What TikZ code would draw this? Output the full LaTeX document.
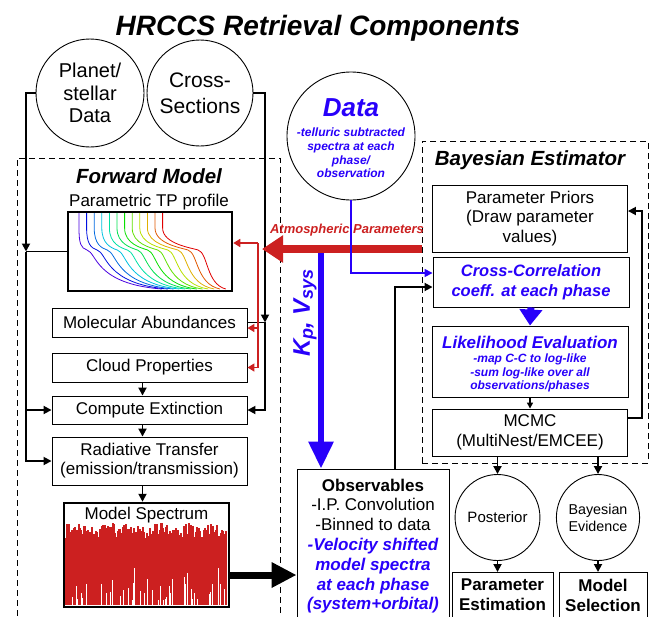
\documentclass[tikz,border=0pt]{standalone}
\usepackage{fontspec}
\setmainfont{Liberation Sans}
\usepackage{xcolor}
\definecolor{hrred}{RGB}{204,32,32}
\definecolor{hrblue}{RGB}{40,0,250}
\usepackage{tikz}
\usetikzlibrary{
  shapes.geometric,
  arrows.meta,
  positioning
}
\newcommand{\lowsub}[1]{\raisebox{-3pt}{\fontsize{18}{18}\selectfont #1}}

\begin{document}
\begin{tikzpicture}[
  x=1pt, y=-1pt,
  box/.style={rectangle, draw, line width=0.9pt, inner sep=0pt, align=center, font=\fontsize{17}{19.5}\selectfont},
  plotbox/.style={rectangle, draw, line width=2.5pt, inner sep=0pt},
  bubble/.style={circle, draw, line width=0.9pt, inner sep=0pt, align=center},
  oval/.style={ellipse, draw, line width=0.9pt, inner sep=0pt, minimum width=75pt, minimum height=86pt, align=center},
  frame/.style={rectangle, draw, line width=0.8pt, dash pattern=on 6pt off 4pt, inner sep=0pt},
  heading/.style={font=\bfseries\itshape\fontsize{20.5}{22}\selectfont},
  plain/.style={font=\fontsize{17}{19.5}\selectfont, inner sep=0pt},
  bluebold/.style={text=hrblue, font=\bfseries\itshape\fontsize{16.5}{20}\selectfont, align=center},
  bluenote/.style={text=hrblue, font=\bfseries\itshape\fontsize{12}{13.7}\selectfont, align=center, inner sep=0pt},
  result/.style={font=\bfseries\fontsize{17}{20}\selectfont, align=center, inner sep=0pt},
  link/.style={-{Triangle[length=8pt,width=8pt]}, line width=1.8pt},
  redlink/.style={-{Triangle[length=7pt,width=8pt]}, line width=1.6pt, hrred},
  bluelink/.style={-{Triangle[length=8pt,width=8pt]}, line width=1.5pt, hrblue},
  fatred/.style={-{Triangle[length=21pt,width=26pt]}, line width=8pt, hrred},
  fatblue/.style={-{Triangle[length=27pt,width=24pt]}, line width=6pt, hrblue},
  fatblack/.style={-{Triangle[length=25pt,width=24pt]}, line width=7pt}
]
  \useasboundingbox (0,0) rectangle (655,616);
  \clip (0,0) rectangle (655,616);

  % Title
  \node[font=\bfseries\itshape\fontsize{28}{30}\selectfont, anchor=base] (title) at (318,35) {HRCCS Retrieval Components};

  % Inputs
  \node[bubble, minimum size=108pt, font=\fontsize{20}{22.5}\selectfont] (planet) at (90,93) {Planet/\\stellar\\Data};
  \node[bubble, minimum size=106pt, font=\fontsize{21}{26}\selectfont] (xsec) at (200,93) {Cross-\\Sections};
  \node[bubble, minimum size=128pt] (data) at (351,136) {};
  \node[text=hrblue, font=\bfseries\itshape\fontsize{26}{28}\selectfont] (datahead) at (351,108) {Data};
  \node[bluenote] (datanote) at (351,153) {-telluric subtracted\\spectra at each\\phase/\\observation};

  % Forward model
  \node[frame, minimum width=263pt, minimum height=472pt] (fwd) at (148.5,394) {};
  \node[heading, anchor=base] (fwdhead) at (149,183) {Forward Model};
  \node[plain, anchor=base] (tplabel) at (149,206) {Parametric TP profile};
  \node[plotbox, minimum width=164pt, minimum height=79pt] (tp) at (150,251.5) {};
  \foreach \i in {0,...,11} {
    \pgfmathsetmacro{\hue}{0.72*(1-\i/11)}
    \definecolor{tpcol}{hsb}{\hue,1,0.88}
    \pgfmathsetmacro{\xt}{79+7.6*\i}
    \pgfmathsetmacro{\xm}{\xt+8+2.5*\i}
    \pgfmathsetmacro{\xe}{162+5.8*\i}
    \draw[tpcol, line width=0.8pt] (\xt,213) -- (\xt,228) .. controls (\xt,244) and (\xm-6,248) .. (\xm,250) .. controls (\xm+10,253) and (\xm+8,284) .. (\xe,289);
  }
  \node[box, minimum width=195pt, minimum height=29pt] (mol) at (149.5,322.5) {Molecular Abundances};
  \node[box, minimum width=195pt, minimum height=29pt] (cloud) at (149.5,367.5) {Cloud Properties};
  \node[box, minimum width=195pt, minimum height=28pt] (ext) at (149.5,410) {Compute Extinction};
  \node[box, minimum width=195pt, minimum height=48pt, font=\fontsize{17}{19}\selectfont] (rt) at (149.5,461) {Radiative Transfer\\(emission/transmission)};
  \node[plotbox, minimum width=165pt, minimum height=104pt] (spec) at (146.5,555) {};
  \pgfmathsetseed{5}
  \foreach \i in {0,...,160} {
    \draw[hrred, line width=1.2pt] ({66+\i},605) -- ({66+\i},{523+16*rnd});
  }
  \foreach \k in {1,...,45} {
    \draw[white, line width=0.7pt] ({68+157*rnd},605) -- ++(0,{-5-55*rnd*rnd});
  }
  \node[plain, anchor=base] (speclabel) at (146.5,519) {Model Spectrum};

  % Bayesian estimator
  \node[frame, minimum width=226pt, minimum height=322pt] (bayes) at (535,302) {};
  \node[heading, anchor=base] (bayeshead) at (530,165) {Bayesian Estimator};
  \node[box, minimum width=195pt, minimum height=67pt] (priors) at (530,218.5) {Parameter Priors\\(Draw parameter\\values)};
  \node[box, bluebold, minimum width=196pt, minimum height=50pt, inner sep=0pt] (cc) at (531,282) {Cross-Correlation\\coeff. at each phase};
  \node[box, minimum width=196pt, minimum height=71pt] (lik) at (530,361.5) {};
  \node[bluebold, font=\bfseries\itshape\fontsize{17}{20}\selectfont] (likhead) at (530,342) {Likelihood Evaluation};
  \node[bluenote] (liknote) at (530,373) {-map C-C to log-like\\-sum log-like over all\\observations/phases};
  \node[box, minimum width=195pt, minimum height=47pt, font=\fontsize{17}{20}\selectfont] (mcmc) at (530,432.5) {MCMC\\(MultiNest/EMCEE)};

  % Outputs
  \node[oval, font=\fontsize{15}{17}\selectfont] (post) at (497.5,517.5) {Posterior};
  \node[oval, font=\fontsize{14.3}{17}\selectfont] (evid) at (598,517.5) {Bayesian\\Evidence};
  \node[box, minimum width=101pt, minimum height=60pt, anchor=north] (parest) at (502.5,572) {};
  \node[result] (parestlabel) at (502.5,595) {Parameter\\Estimation};
  \node[box, minimum width=88pt, minimum height=60pt, anchor=north] (modsel) at (603,572) {};
  \node[result] (modsellabel) at (603,595) {Model\\Selection};

  % Observables
  \node[box, minimum width=152pt, minimum height=154pt, font=\fontsize{17}{19.8}\selectfont] (obs) at (373,546) {\textbf{Observables}\\-I.P. Convolution\\-Binned to data\\\textcolor{hrblue}{\bfseries\itshape -Velocity shifted}\\\textcolor{hrblue}{\bfseries\itshape model spectra}\\\textcolor{hrblue}{\bfseries\itshape at each phase}\\\textcolor{hrblue}{\bfseries\itshape (system+orbital)}};

  % Connector points
  \coordinate (tpjoin) at (26,251.5);
  \coordinate (xsjoin) at (265,322.5);
  \coordinate (atmbus) at (258,243);
  \coordinate (atmsrc) at (422,249);
  \coordinate (atmtip) at (262,249);
  \coordinate (kvtop) at (321,253);
  \coordinate (specout) at ([yshift=-20pt]spec.east);
  \coordinate (rtout) at ([xshift=-7pt]rt.south);

  % Forward model links
  \draw[link] (planet.west) -| (tpjoin);
  \draw[line width=1.8pt] (tp.west) -- (tpjoin);
  \draw[link] (tpjoin) |- (ext.west);
  \draw[link] (tpjoin) |- (rt.west);
  \draw[link] (xsec.east) -| (xsjoin);
  \draw[link] (mol.east) -- (xsjoin) |- (ext.east);
  \draw[link] ([xshift=-7pt]cloud.south) -- ([xshift=-7pt]ext.north);
  \draw[link] ([xshift=-7pt]ext.south) -- ([xshift=-7pt]rt.north);
  \draw[link] (rtout) -- (rtout |- spec.north);

  % Atmospheric parameters
  \draw[redlink] (atmbus) -- (atmbus -| tp.east);
  \draw[redlink] (atmbus) |- ([yshift=-5.5pt]mol.east);
  \draw[redlink] (atmbus) |- (cloud.east);
  \draw[fatred] (atmsrc) -- (atmtip);
  \node[text=hrred, font=\bfseries\itshape\fontsize{13}{14}\selectfont, anchor=base] (atmlabel) at (347,233) {Atmospheric Parameters};

  % Velocities and data
  \draw[fatblue] (kvtop) -- (kvtop |- obs.north);
  \node[rotate=90, text=hrblue, font=\bfseries\itshape\fontsize{24}{26}\selectfont] (kvlabel) at (305,313) {K\lowsub{p}, V\lowsub{sys}};
  \draw[bluelink] (data.south) |- ([yshift=9pt]cc.west);
  \draw[link] ([xshift=22pt]obs.north) |- ([yshift=-5pt]cc.west);
  \draw[fatblack] (specout) -- (specout -| obs.west);

  % Estimator links
  \draw[-{Triangle[length=16pt,width=22pt]}, line width=7pt, hrblue] (cc.south) -- (lik.north);
  \draw[-{Triangle[length=6pt,width=6pt]}, line width=1.4pt] (lik.south) -- (mcmc.north);
  \draw[link] ([yshift=14.5pt]mcmc.east) -- ++(14,0) |- ([yshift=7.5pt]priors.east);
  \draw[link] ([xshift=-32.5pt]mcmc.south) -- (post.north);
  \draw[link] ([xshift=68pt]mcmc.south) -- (evid.north);
  \draw[link] (post.south) -- (post.south |- parest.north);
  \draw[link] (evid.south) -- (evid.south |- modsel.north);
\end{tikzpicture}
\end{document}
